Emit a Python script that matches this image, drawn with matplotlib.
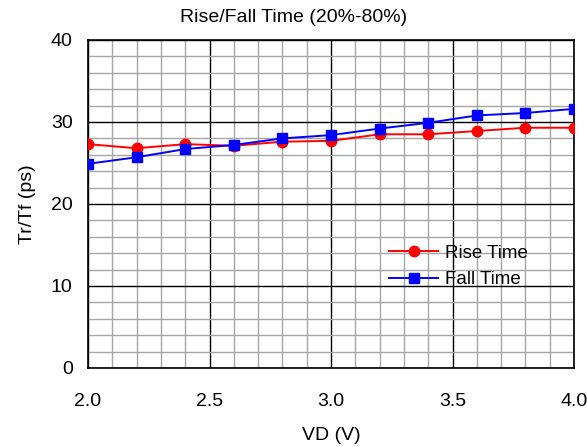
import numpy as np
import matplotlib.pyplot as plt
from matplotlib.ticker import MultipleLocator

plt.rcParams['font.family'] = ['Liberation Sans', 'DejaVu Sans']

# data
vd = [2.0, 2.2, 2.4, 2.6, 2.8, 3.0, 3.2, 3.4, 3.6, 3.8, 4.0]
rise_time = [27.3, 26.8, 27.3, 27.1, 27.6, 27.7, 28.5, 28.5, 28.9, 29.3, 29.3]
fall_time = [24.9, 25.7, 26.7, 27.2, 28.0, 28.4, 29.2, 29.9, 30.8, 31.1, 31.6]

fig = plt.figure(figsize=(5.87, 4.47), dpi=100)
ax = fig.add_axes([88/587, 1 - 368/447, (574 - 88)/587, (368 - 40)/447])

ax.plot(vd, rise_time, color='#ff0000', marker='o', markersize=7.5, lw=1.4, label='Rise Time', zorder=3)
ax.plot(vd, fall_time, color='#0000ff', marker='s', markersize=7, lw=1.4, label='Fall Time', zorder=3)

ax.set_xlim(2.0, 4.0)
ax.set_ylim(0, 40)
ax.xaxis.set_major_locator(MultipleLocator(0.5))
ax.xaxis.set_minor_locator(MultipleLocator(0.1))
ax.yaxis.set_major_locator(MultipleLocator(10))
ax.yaxis.set_minor_locator(MultipleLocator(2))
ax.xaxis.set_major_formatter(lambda v, p: f'{v:.1f}')

ax.grid(which='minor', color='#a6a6a6', lw=1.0)
ax.grid(which='major', color='black', lw=1.0)
ax.set_axisbelow(True)
for s in ax.spines.values():
    s.set_color('black')
    s.set_linewidth(1.2)

ax.tick_params(which='both', direction='in', length=0, labelsize=14)
ax.tick_params(axis='x', pad=18)
ax.tick_params(axis='y', pad=11)

# title is centred on the figure, not the plot area
fig.text(0.5, 1 - 17/447, 'Rise/Fall Time (20%-80%)', fontsize=14, ha='center', va='center')
ax.set_xlabel('VD (V)', fontsize=14, labelpad=12)
ax.set_ylabel('Tr/Tf (ps)', fontsize=14, labelpad=11)

ax.legend(loc='center left', bbox_to_anchor=(0.585, 0.31), frameon=False, fontsize=13.5,
          handlelength=2.6, handletextpad=0.4, labelspacing=0.5)

fig.savefig('out.png', dpi=100)
